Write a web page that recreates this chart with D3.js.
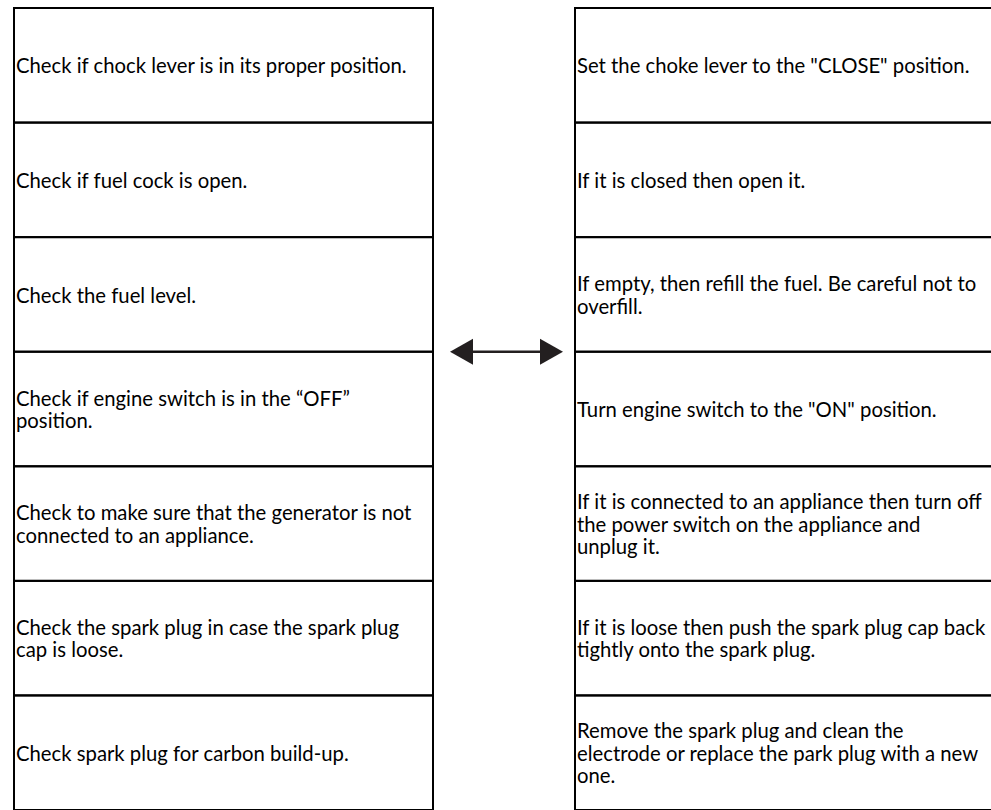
<!DOCTYPE html>
<html>
<head>
<meta charset="utf-8">
<script src="https://cdn.jsdelivr.net/npm/d3@7"></script>
<style>
  html, body { margin: 0; padding: 0; background: #fff; }
  svg { display: block; }
</style>
</head>
<body>
<svg id="chart" width="991" height="810"></svg>
<script>
const checks = [
  ["Check if chock lever is in its proper position."],
  ["Check if fuel cock is open."],
  ["Check the fuel level."],
  ["Check if engine switch is in the \u201cOFF\u201d", "position."],
  ["Check to make sure that the generator is not", "connected to an appliance."],
  ["Check the spark plug in case the spark plug", "cap is loose."],
  ["Check spark plug for carbon build-up."]
];
const actions = [
  ["Set the choke lever to the \"CLOSE\" position."],
  ["If it is closed then open it."],
  ["If empty, then refill the fuel. Be careful not to", "overfill."],
  ["Turn engine switch to the \"ON\" position."],
  ["If it is connected to an appliance then turn off", "the power switch on the appliance and", "unplug it."],
  ["If it is loose then push the spark plug cap back", "tightly onto the spark plug."],
  ["Remove the spark plug and clean the", "electrode or replace the park plug with a new", "one."]
];
const columns = ["checks", "actions"];

const svg = d3.select("#chart");
const y = d3.scaleBand().domain(d3.range(checks.length)).range([8, 810]).padding(0);
const colX = d3.scaleOrdinal().domain(columns).range([[14, 433], [575, 1010]]);
const lineH = 22.5;
const fontSize = 20.3;

function drawColumn(key, data) {
  const [x0, x1] = colX(key);
  const g = svg.append("g");
  g.selectAll("rect").data(data).join("rect")
    .attr("x", x0).attr("y", (d, i) => y(i))
    .attr("width", x1 - x0).attr("height", y.bandwidth())
    .attr("fill", "none").attr("stroke", "#000").attr("stroke-width", 2);
  g.selectAll("text").data(data).join("text")
    .attr("x", x0 + 2)
    .attr("y", (d, i) => y(i) + y.bandwidth() / 2 + 1 - (d.length - 1) * lineH / 2)
    .attr("font-family", "Lato, 'Open Sans', sans-serif")
    .attr("font-size", fontSize)
    .attr("fill", "#000")
    .each(function(d) {
      d3.select(this).selectAll("tspan").data(d).join("tspan")
        .attr("x", x0 + 2)
        .attr("dy", (t, j) => j === 0 ? "0.35em" : lineH)
        .text(t => t);
    });
}
drawColumn("checks", checks);
drawColumn("actions", actions);

// double-headed arrow
const ay = y(3);
const ax0 = 450, ax1 = 563, head = 23;
svg.append("line").attr("x1", ax0 + head).attr("x2", ax1 - head).attr("y1", ay).attr("y2", ay)
  .attr("stroke", "#231f20").attr("stroke-width", 2.5);
svg.append("path").attr("d", `M${ax0},${ay} L${ax0 + head},${ay - 13} L${ax0 + head},${ay + 13} Z`).attr("fill", "#231f20");
svg.append("path").attr("d", `M${ax1},${ay} L${ax1 - head},${ay - 13} L${ax1 - head},${ay + 13} Z`).attr("fill", "#231f20");
</script>
</body>
</html>
